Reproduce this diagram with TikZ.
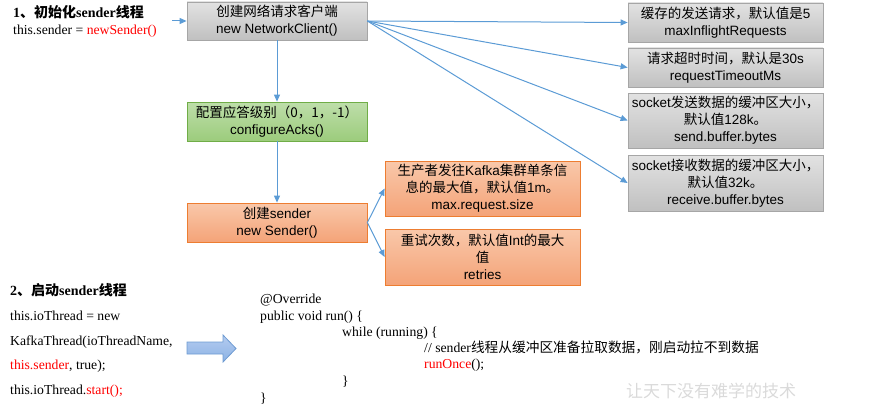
\documentclass[tikz,border=0pt]{standalone}
\usepackage{fontspec}
\setmainfont{Liberation Sans}
\newfontfamily\tnr{Liberation Serif}
\newfontfamily\zh{Noto Sans CJK SC}
\usetikzlibrary{arrows.meta,positioning}
\newcommand{\zhtext}[1]{{\zh #1}}
\definecolor{linkblue}{RGB}{91,155,213}
\definecolor{greyline}{RGB}{166,166,166}
\definecolor{greytop}{RGB}{226,226,226}
\definecolor{greybot}{RGB}{192,192,192}
\definecolor{greenline}{RGB}{112,173,71}
\definecolor{greentop}{RGB}{190,222,170}
\definecolor{greenbot}{RGB}{156,204,124}
\definecolor{orangeline}{RGB}{237,125,49}
\definecolor{orangetop}{RGB}{249,200,170}
\definecolor{orangebot}{RGB}{244,163,120}
\definecolor{codered}{RGB}{255,0,0}
\definecolor{arrowtop}{RGB}{180,204,240}
\definecolor{arrowbot}{RGB}{140,178,228}
\definecolor{arrowline}{RGB}{110,155,210}
\definecolor{markgrey}{RGB}{218,218,218}
\begin{document}
\begin{tikzpicture}[x=1pt,y=1pt,yscale=-1,xscale=1,
  greybox/.style={draw=greyline,line width=0.8pt,top color=greytop,bottom color=greybot,
    minimum width=180pt,minimum height=38pt,inner sep=1pt,align=center,
    font=\fontsize{13.5}{17}\selectfont},
  rightbox/.style={greybox,minimum width=195pt},
  greenbox/.style={greybox,draw=greenline,top color=greentop,bottom color=greenbot},
  orangebox/.style={greybox,draw=orangeline,top color=orangetop,bottom color=orangebot},
  notebox/.style={orangebox,minimum width=195pt},
  flowarrow/.style={draw=linkblue,line width=1pt,-{Triangle[length=7pt,width=6pt]}},
  plaintext/.style={anchor=base west,inner sep=0pt,font=\tnr\fontsize{13.7}{15}\selectfont}]
\useasboundingbox (0,0) rectangle (882,412);

%Shape: Rectangle [client]
\node[greybox] (client) at (277,21) {\zhtext{创建网络请求客户端}\\new NetworkClient()};
%Shape: Rectangle [acks]
\node[greenbox,minimum height=39pt] (acks) at (277,121.5) {\zhtext{配置应答级别（0，1，-1）}\\configureAcks()};
%Shape: Rectangle [sender]
\node[orangebox,minimum height=39pt] (sender) at (277,222.5) {\zhtext{创建}sender\\new Sender()};

%Shape: Rectangle [sender options]
\node[notebox,minimum height=55pt] (maxsize) at (482.5,188.5) {\zhtext{生产者发往}Kafka\zhtext{集群单条信}\\\zhtext{息的最大值，默认值}1m\zhtext{。}\\max.request.size};
\node[notebox,minimum height=56pt] (retries) at (482.5,257) {\zhtext{重试次数，默认值}Int\zhtext{的最大}\\\zhtext{值}\\retries};

%Shape: Rectangle [client options]
\node[rightbox,minimum height=39pt] (inflight) at (725.5,22.5) {\zhtext{缓存的发送请求，默认值是}5\\maxInflightRequests};
\node[rightbox,minimum height=39pt] (timeout) at (725.5,67.5) {\zhtext{请求超时时间，默认是}30s\\requestTimeoutMs};
\node[rightbox,minimum height=55pt] (sendbuf) at (725.5,120.5) {socket\zhtext{发送数据的缓冲区大小，}\\\zhtext{默认值}128k\zhtext{。}\\send.buffer.bytes};
\node[rightbox,minimum height=56pt] (recvbuf) at (725.5,183) {socket\zhtext{接收数据的缓冲区大小，}\\\zhtext{默认值}32k\zhtext{。}\\receive.buffer.bytes};

%Straight Lines
\coordinate (initsrc) at (172,21);
\draw[flowarrow] (initsrc) -- (client.west);
\draw[flowarrow] (client) -- (acks);
\draw[flowarrow] (acks) -- (sender);
\draw[flowarrow] (client.east) -- (inflight.west);
\draw[flowarrow] (client.east) -- (timeout.west);
\draw[flowarrow] (client.east) -- (sendbuf.west);
\draw[flowarrow] (client.east) -- (recvbuf.west);
\draw[flowarrow] (sender.east) -- (maxsize.west);
\draw[flowarrow] (sender.east) -- (retries.west);

% Text Node [step 1]
\node[plaintext,font=\tnr\bfseries\fontsize{14}{15}\selectfont] (initttl) at (13,18) {1\zhtext{、初始化}sender\zhtext{线程}};
\node[plaintext] (initcode) at (13,35) {this.sender = \textcolor{codered}{newSender()}};

% Text Node [step 2]
\node[plaintext,font=\tnr\bfseries\fontsize{14}{15}\selectfont] (startttl) at (10,295) {2\zhtext{、启动}sender\zhtext{线程}};
\node[plaintext] (startln1) at (10,320) {this.ioThread = new};
\node[plaintext] (startln2) at (10,345) {KafkaThread(ioThreadName,};
\node[plaintext] (startln3) at (10,369) {\textcolor{codered}{this.sender}, true);};
\node[plaintext] (startln4) at (10,394) {this.ioThread.\textcolor{codered}{start();}};

%Shape: Right Arrow
\draw[draw=arrowline,line width=0.8pt,top color=arrowtop,bottom color=arrowbot]
  (187,342) -- (223,342) -- (223,335) -- (236,348.5) -- (223,362) -- (223,354) -- (187,354) -- cycle;

% Text Node [run loop]
\node[plaintext] (override) at (260,303) {@Override};
\node[plaintext] (runhead) at (260,320) {public void run() \{};
\node[plaintext] (whilehead) at (342,336) {while (running) \{};
\node[plaintext] (comment) at (424,352) {// sender\zhtext{线程从缓冲区准备拉取数据，刚启动拉不到数据}};
\node[plaintext] (runonce) at (424,368) {\textcolor{codered}{runOnce}();};
\node[plaintext] (whileend) at (342,385) {\}};
\node[plaintext] (runend) at (260,402) {\}};

% Text Node [mark]
\node[text=markgrey,font=\zh\fontsize{17}{17}\selectfont] (mark) at (711,391) {让天下没有难学的技术};
\end{tikzpicture}
\end{document}
